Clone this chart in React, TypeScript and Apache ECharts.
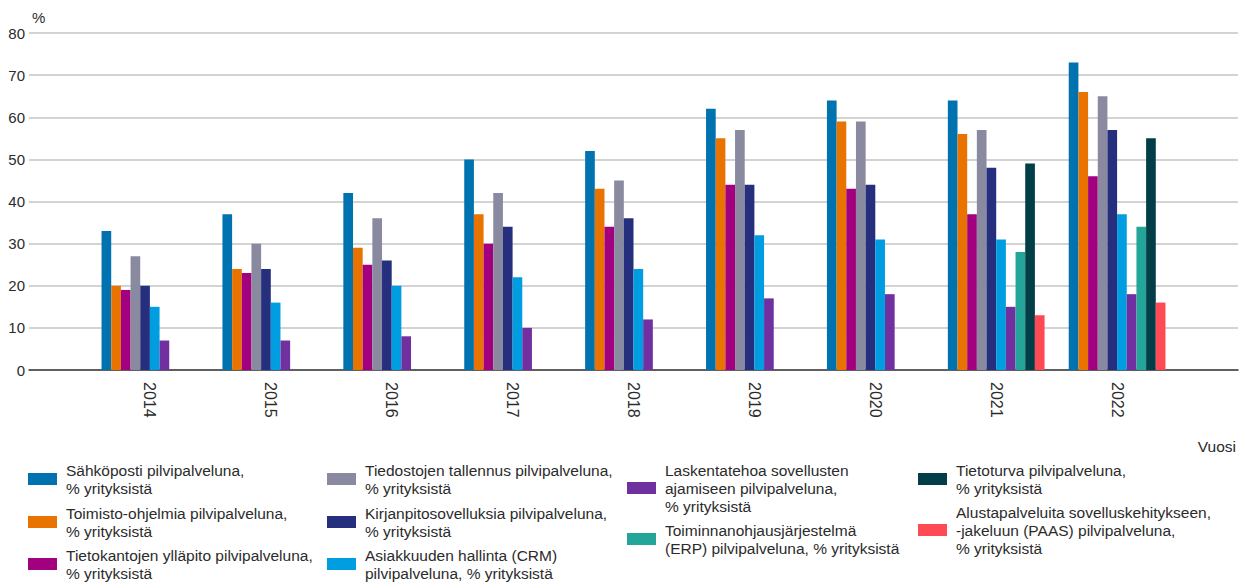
import React, { useEffect, useRef } from "react";
import * as echarts from "echarts";

// Years on the category axis (padded with an empty slot at each end below)
const years = ["2014", "2015", "2016", "2017", "2018", "2019", "2020", "2021", "2022"];

// Series names
const seriesNames = [
  "Sähköposti pilvipalveluna, % yrityksistä",
  "Toimisto-ohjelmia pilvipalveluna, % yrityksistä",
  "Tietokantojen ylläpito pilvipalveluna, % yrityksistä",
  "Tiedostojen tallennus pilvipalveluna, % yrityksistä",
  "Kirjanpitosovelluksia pilvipalveluna, % yrityksistä",
  "Asiakkuuden hallinta (CRM) pilvipalveluna, % yrityksistä",
  "Laskentatehoa sovellusten ajamiseen pilvipalveluna, % yrityksistä",
  "Toiminnanohjausjärjestelmä (ERP) pilvipalveluna, % yrityksistä",
  "Tietoturva pilvipalveluna, % yrityksistä",
  "Alustapalveluita sovelluskehitykseen, -jakeluun (PAAS) pilvipalveluna, % yrityksistä",
];

// Wrapped legend texts, one entry per series
const legendLines = [
  ["Sähköposti pilvipalveluna,", "% yrityksistä"],
  ["Toimisto-ohjelmia pilvipalveluna,", "% yrityksistä"],
  ["Tietokantojen ylläpito pilvipalveluna,", "% yrityksistä"],
  ["Tiedostojen tallennus pilvipalveluna,", "% yrityksistä"],
  ["Kirjanpitosovelluksia pilvipalveluna,", "% yrityksistä"],
  ["Asiakkuuden hallinta (CRM)", "pilvipalveluna, % yrityksistä"],
  ["Laskentatehoa sovellusten", "ajamiseen pilvipalveluna,", "% yrityksistä"],
  ["Toiminnanohjausjärjestelmä", "(ERP) pilvipalveluna, % yrityksistä"],
  ["Tietoturva pilvipalveluna,", "% yrityksistä"],
  ["Alustapalveluita sovelluskehitykseen,", "-jakeluun (PAAS) pilvipalveluna,", "% yrityksistä"],
];

// Values per series, % of enterprises, by year
const sahkoposti = [33, 37, 42, 50, 52, 62, 64, 64, 73];
const toimisto = [20, 24, 29, 37, 43, 55, 59, 56, 66];
const tietokannat = [19, 23, 25, 30, 34, 44, 43, 37, 46];
const tiedostot = [27, 30, 36, 42, 45, 57, 59, 57, 65];
const kirjanpito = [20, 24, 26, 34, 36, 44, 44, 48, 57];
const crm = [15, 16, 20, 22, 24, 32, 31, 31, 37];
const laskentateho = [7, 7, 8, 10, 12, 17, 18, 15, 18];
const erp = [null, null, null, null, null, null, null, 28, 34];
const tietoturva = [null, null, null, null, null, null, null, 49, 55];
const paas = [null, null, null, null, null, null, null, 13, 16];

const seriesValues = [
  sahkoposti, toimisto, tietokannat, tiedostot, kirjanpito,
  crm, laskentateho, erp, tietoturva, paas,
];

const colors = [
  "#0072AF", "#E97300", "#A2007E", "#898AA0", "#262F7D",
  "#009EE0", "#7030A0", "#23A59A", "#023E47", "#FF4A55",
];

// Legend placement: [left, top] for each series' legend entry
const legendPos: [number, number][] = [
  [28, 461], [28, 504], [28, 546],
  [327, 461], [327, 504], [327, 546],
  [627, 461], [627, 521],
  [918, 461], [918, 503],
];

const FONT = "'Liberation Sans', Arial, sans-serif";
const TEXT = "#2b2b2b";

export default function App() {
  const ref = useRef<HTMLDivElement>(null);

  useEffect(() => {
    if (!ref.current) return;
    const chart = echarts.init(ref.current, null, { renderer: "svg" });

    const categories = ["", ...years, ""];
    const wrapped: Record<string, string> = {};
    seriesNames.forEach((n, i) => (wrapped[n] = legendLines[i].join("\n")));

    const legends = seriesNames.map((name, i) => ({
      data: [name],
      left: legendPos[i][0],
      top: legendPos[i][1],
      orient: "vertical",
      padding: 0,
      itemGap: 0,
      itemWidth: 29,
      itemHeight: 12,
      icon: "rect",
      selectedMode: false,
      formatter: (n: string) => wrapped[n],
      textStyle: {
        fontFamily: FONT,
        fontSize: 15.5,
        lineHeight: 18,
        color: TEXT,
        padding: [0, 0, 0, 4],
      },
    }));

    chart.setOption({
      animation: false,
      textStyle: { fontFamily: FONT },
      color: colors,
      grid: { left: 29, right: 8, top: 33, bottom: 212, containLabel: false },
      legend: legends,
      xAxis: {
        type: "category",
        data: categories,
        boundaryGap: false,
        name: "Vuosi",
        nameLocation: "end",
        nameGap: -2,
        nameTextStyle: {
          fontFamily: FONT,
          fontSize: 15.5,
          color: TEXT,
          align: "right",
          verticalAlign: "top",
          padding: [68, 0, 0, 0],
        },
        axisLine: { lineStyle: { color: "#3a3a3a", width: 1.5 } },
        axisTick: { show: false },
        axisLabel: {
          interval: 0,
          rotate: -90,
          margin: 12,
          fontSize: 16,
          color: TEXT,
          fontFamily: FONT,
        },
        splitLine: { show: false },
      },
      yAxis: {
        type: "value",
        min: 0,
        max: 80,
        interval: 10,
        name: "%",
        nameLocation: "end",
        nameGap: 8,
        nameTextStyle: {
          fontFamily: FONT,
          fontSize: 15,
          color: TEXT,
          align: "left",
          padding: [0, 0, 0, 3],
        },
        axisLine: { show: false },
        axisTick: { show: false },
        axisLabel: { margin: 4, fontSize: 15, color: TEXT, fontFamily: FONT },
        splitLine: { lineStyle: { color: "#c4c4c4", width: 1.5 } },
      },
      series: seriesNames.map((name, i) => ({
        name,
        type: "bar",
        barGap: "0%",
        barCategoryGap: "20%",
        data: [null, ...seriesValues[i], null],
        itemStyle: { color: colors[i] },
      })),
    });

    return () => chart.dispose();
  }, []);

  return (
    <div
      ref={ref}
      style={{ position: "fixed", left: 0, top: 0, width: 1246, height: 582, background: "#fff" }}
    />
  );
}
